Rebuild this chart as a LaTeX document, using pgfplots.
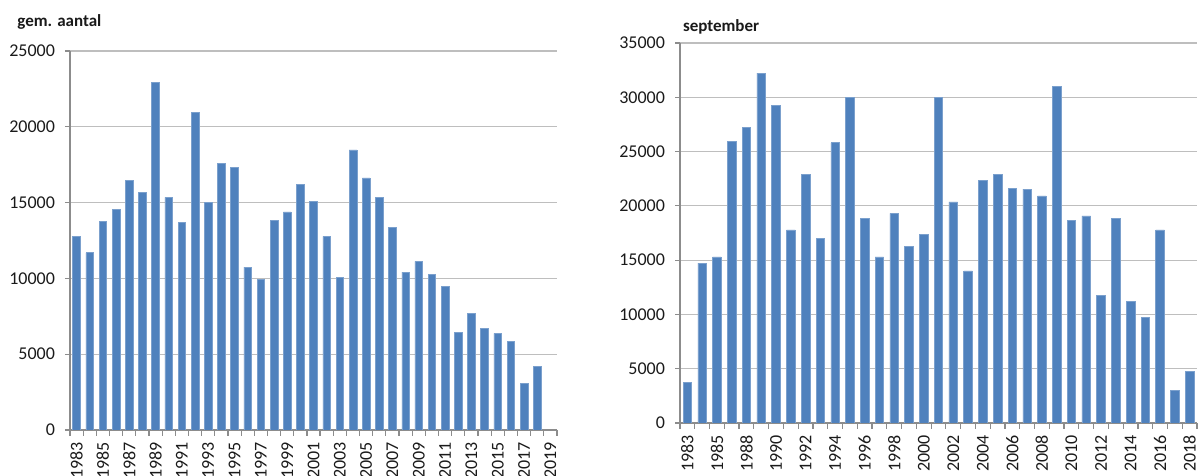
\documentclass[border=0pt]{standalone}
\usepackage{fontspec}
\setmainfont{Carlito}
\usepackage{pgfplots}
\pgfplotsset{compat=1.18}
\definecolor{barblue}{HTML}{4F81BD}
\definecolor{gridgray}{HTML}{BEBEBE}
\definecolor{axgray}{HTML}{8C8C8C}
\definecolor{txt}{HTML}{1A1A1A}
\begin{document}
\begin{tikzpicture}
\useasboundingbox (0pt,0pt) rectangle (600pt,238pt);
\pgfplotsset{
 excel/.style={
  scale only axis,
  axis x line=bottom, axis y line=left,
  axis line style={axgray, -, line width=0.6pt},
  ymin=0,
  ymajorgrids, grid style={gridgray, line width=0.6pt},
  tick align=outside,
  major tick length=2.5pt,
  minor tick length=3pt,
  major x tick style={draw=none},
  minor x tick style={axgray, line width=0.6pt},
  ytick style={axgray, line width=0.6pt},
  scaled y ticks=false,
  /pgf/number format/1000 sep={},
  /pgf/number format/assume math mode=true,
  xticklabel style={rotate=90, anchor=east, font=\fontsize{9}{10}\selectfont, text=txt},
  yticklabel style={font=\fontsize{9}{10}\selectfont, text=txt, xshift=-1.5pt},
  ybar, bar width=0.58,
 }
}
\begin{axis}[excel,
  at={(35pt,23pt)}, anchor=south west, width=243.5pt, height=189.5pt,
  xmin=-0.5, xmax=36.5, ymax=25000, ytick={0,5000,...,25000},
  xtick={0,2,...,36},
  xticklabels={1983,1985,1987,1989,1991,1993,1995,1997,1999,2001,2003,2005,2007,2009,2011,2013,2015,2017,2019},
  minor xtick={-0.5,0.5,...,36.5},
]
\addplot[fill=barblue, draw=barblue!75!white, line width=0.3pt] coordinates {
(0,12780) (1,11690) (2,13770) (3,14540) (4,16450) (5,15680) (6,22950) (7,15350)
(8,13700) (9,20950) (10,15020) (11,17590) (12,17330) (13,10740) (14,9930) (15,13830)
(16,14390) (17,16200) (18,15090) (19,12780) (20,10040) (21,18470) (22,16630) (23,15350)
(24,13370) (25,10410) (26,11130) (27,10240) (28,9490) (29,6460) (30,7710) (31,6680)
(32,6370) (33,5860) (34,3080) (35,4220)
};
\end{axis}
\begin{axis}[excel,
  at={(340pt,26.5pt)}, anchor=south west, width=258.5pt, height=190pt,
  xmin=-0.5, xmax=34.5, ymax=35000, ytick={0,5000,...,35000},
  xtick={0,2,...,34},
  xticklabels={1983,1985,1988,1990,1992,1994,1996,1998,2000,2002,2004,2006,2008,2010,2012,2014,2016,2018},
  minor xtick={-0.5,0.5,...,34.5},
]
\addplot[fill=barblue, draw=barblue!75!white, line width=0.3pt] coordinates {
(0,3770) (1,14715) (2,15300) (3,25970) (4,27190) (5,32220) (6,29220) (7,17780)
(8,22900) (9,16980) (10,25810) (11,29980) (12,18820) (13,15300) (14,19310) (15,16250)
(16,17380) (17,29980) (18,20360) (19,14010) (20,22380) (21,22930) (22,21640) (23,21550)
(24,20910) (25,30990) (26,18670) (27,19070) (28,11770) (29,18820) (30,11220) (31,9750)
(32,17780) (33,2970) (34,4750)
};
\end{axis}
\node[anchor=base west, font=\bfseries\fontsize{8.5}{9}\selectfont, text=txt, inner sep=0pt] at (8.5pt,224.5pt) {gem. aantal};
\node[anchor=base west, font=\bfseries\fontsize{8.5}{9}\selectfont, text=txt, inner sep=0pt] at (341.3pt,222pt) {september};
\end{tikzpicture}
\end{document}
